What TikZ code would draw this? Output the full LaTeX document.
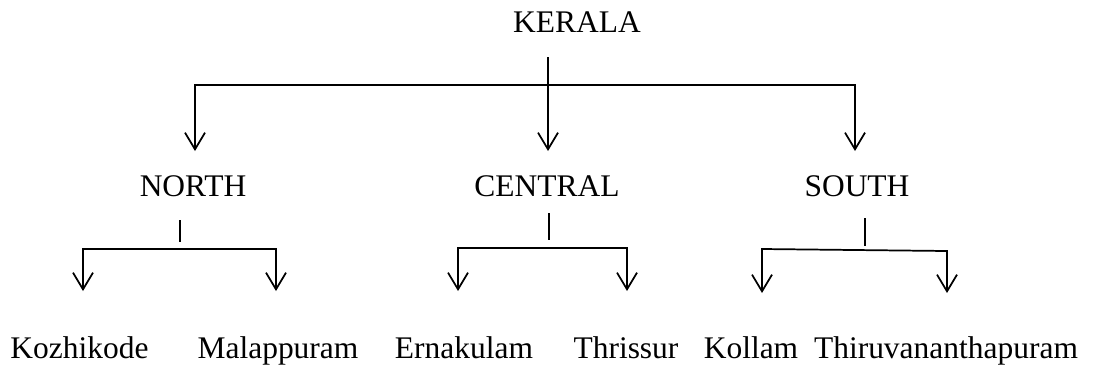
\documentclass[tikz,border=0pt]{standalone}
\usepackage{fontspec}
\setmainfont{Liberation Serif}
\usetikzlibrary{arrows.meta}
\begin{document}
\begin{tikzpicture}[x=0.75pt,y=-0.75pt,
  lbl/.style={anchor=base,inner sep=0pt,font=\fontsize{23.6}{28}\selectfont},
  conn/.style={line width=1.3pt,line join=miter},
  tip/.style={{Straight Barb[length=12.5pt,width=15pt,line width=1.3pt]}-{Straight Barb[length=12.5pt,width=15pt,line width=1.3pt]}},
  onetip/.style={-{Straight Barb[length=12.5pt,width=15pt,line width=1.3pt]}}]
\useasboundingbox (0,0) rectangle (1099,369);
% text nodes
\node[lbl] (kerala) at (577,32) {KERALA};
\node[lbl] (north) at (193,196) {NORTH};
\node[lbl] (central) at (547,196) {CENTRAL};
\node[lbl] (south) at (857,196) {SOUTH};
\node[lbl] (koz) at (79.5,358) {Kozhikode};
\node[lbl] (mal) at (278,358) {Malappuram};
\node[lbl] (ern) at (464,358) {Ernakulam};
\node[lbl] (thr) at (626,358) {Thrissur};
\node[lbl] (kol) at (751,358) {Kollam};
\node[lbl] (tvm) at (946,358) {Thiruvananthapuram};
% top level
\coordinate (kt) at (548,57);
\coordinate (ctip) at (548,151);
\coordinate (nbar) at (195,85);
\coordinate (sbar) at (855,85);
\coordinate (ntip) at (195,151);
\coordinate (stip) at (855,151);
\draw[conn,onetip] (kt) -- (ctip);
\draw[conn,tip] (ntip) -- (nbar) -- (sbar) -- (stip);
% north
\coordinate (nt1) at (180,220);
\coordinate (nt2) at (180,242);
\draw[conn] (nt1) -- (nt2);
\coordinate (nbl) at (83,249);
\coordinate (nbr) at (276,249);
\coordinate (ntl) at (83,291);
\coordinate (ntr) at (276,291);
\draw[conn,tip] (ntl) -- (nbl) -- (nbr) -- (ntr);
% central
\coordinate (ct1) at (549,213);
\coordinate (ct2) at (549,240);
\draw[conn] (ct1) -- (ct2);
\coordinate (cbl) at (458,248);
\coordinate (cbr) at (627,248);
\coordinate (ctl) at (458,291);
\coordinate (ctr) at (627,291);
\draw[conn,tip] (ctl) -- (cbl) -- (cbr) -- (ctr);
% south
\coordinate (st1) at (865,218);
\coordinate (st2) at (865,246);
\draw[conn] (st1) -- (st2);
\coordinate (sbl) at (762,249);
\coordinate (sbr) at (947,251);
\coordinate (stl) at (762,293);
\coordinate (str) at (947,293);
\draw[conn,tip] (stl) -- (sbl) -- (sbr) -- (str);
\end{tikzpicture}
\end{document}
